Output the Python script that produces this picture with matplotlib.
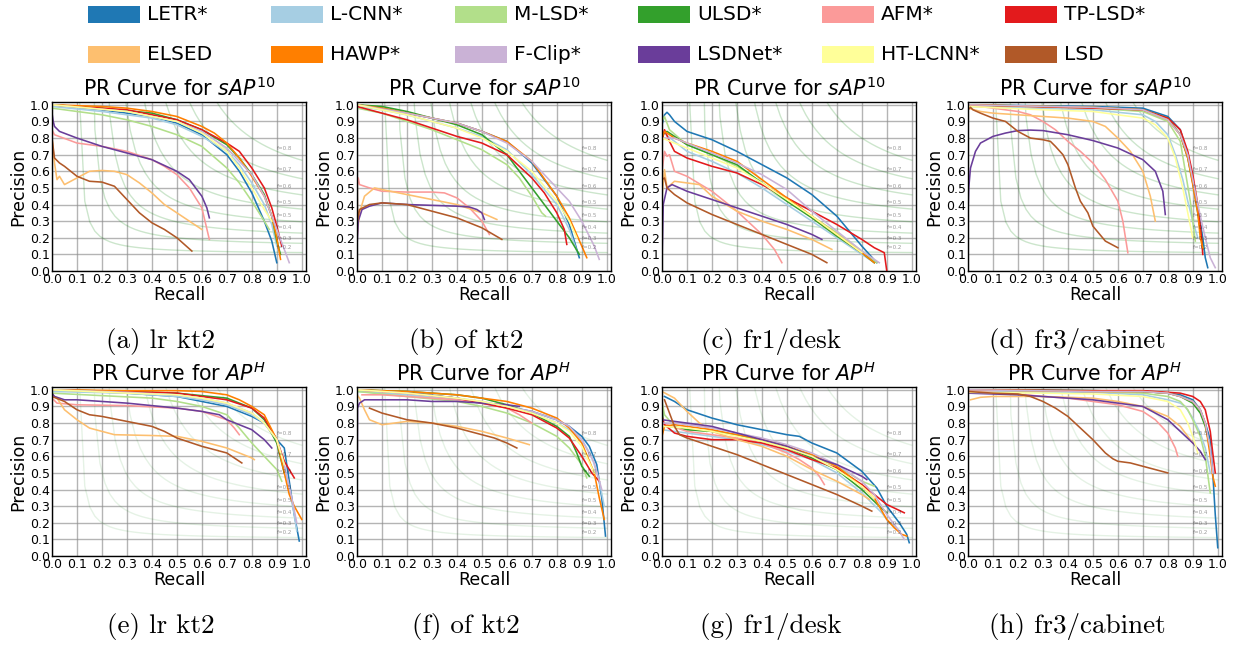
import numpy as np
import matplotlib
matplotlib.use("Agg")
import matplotlib.pyplot as plt
from matplotlib.patches import Rectangle

# ---------------- data ----------------
methods = ["LETR*", "L-CNN*", "M-LSD*", "ULSD*", "AFM*", "TP-LSD*",
           "ELSED", "HAWP*", "F-Clip*", "LSDNet*", "HT-LCNN*", "LSD"]
colors = ["#1f78b4", "#a6cee3", "#b2df8a", "#33a02c", "#fb9a99", "#e31a1c",
          "#fdbf6f", "#ff7f00", "#cab2d6", "#6a3d9a", "#ffff99", "#b15928"]

titles = ["PR Curve for $sAP^{10}$"] * 4 + ["PR Curve for $AP^{H}$"] * 4
captions = ["(a) lr kt2", "(b) of kt2", "(c) fr1/desk", "(d) fr3/cabinet",
            "(e) lr kt2", "(f) of kt2", "(g) fr1/desk", "(h) fr3/cabinet"]
f_scores = np.linspace(0.2, 0.8, num=8)

# (a) lr kt2, sAP10 : method -> (recall, precision)
panel_a = {
    "LETR*": ([0, .2, .4, .5, .6, .7, .75, .8, .85, .88, .9],
              [1.0, .97, .93, .89, .82, .70, .60, .47, .30, .18, .05]),
    "L-CNN*": ([0, .2, .4, .5, .6, .7, .75, .8, .85, .88, .9],
               [.99, .96, .92, .88, .81, .72, .64, .53, .40, .28, .15]),
    "M-LSD*": ([0, .2, .3, .4, .5, .6, .7, .75, .8, .85, .87],
               [.98, .94, .91, .87, .82, .75, .62, .53, .42, .30, .25]),
    "ULSD*": ([0, .2, .4, .5, .6, .7, .75, .8, .85, .88, .9, .915],
              [1.0, .98, .95, .91, .85, .76, .68, .58, .46, .33, .18, .10]),
    "AFM*": ([0, .01, .1, .2, .3, .4, .45, .5, .55, .6, .63],
             [.85, .82, .77, .75, .72, .67, .63, .58, .50, .38, .19]),
    "TP-LSD*": ([0, .3, .5, .6, .7, .75, .8, .85, .88, .9, .92],
                [1.0, .97, .91, .85, .77, .72, .62, .50, .38, .27, .15]),
    "ELSED": ([0, .01, .02, .03, .05, .1, .15, .2, .25, .3, .35, .4, .45, .5, .55, .6],
              [.80, .65, .55, .57, .52, .56, .60, .605, .60, .58, .53, .47, .40, .35, .30, .25]),
    "HAWP*": ([0, .2, .3, .4, .5, .6, .65, .7, .75, .8, .85, .88, .9, .915],
              [1.0, .99, .98, .96, .93, .87, .83, .77, .68, .57, .45, .33, .20, .07]),
    "F-Clip*": ([0, .3, .5, .6, .7, .8, .85, .9, .95],
                [1.0, .96, .90, .84, .74, .58, .45, .25, .05]),
    "LSDNet*": ([0, .005, .01, .03, .1, .2, .3, .4, .5, .55, .6, .62, .63],
                [.95, .90, .87, .84, .80, .75, .71, .67, .60, .55, .45, .38, .32]),
    "HT-LCNN*": ([0, .3, .5, .6, .7, .75, .8, .85, .88],
                 [1.0, .96, .90, .83, .72, .62, .50, .37, .30]),
    "LSD": ([0, .01, .03, .05, .1, .15, .2, .25, .3, .35, .4, .45, .5, .56],
            [.80, .68, .65, .63, .57, .54, .535, .51, .43, .35, .29, .25, .20, .12]),
}

# (b) of kt2, sAP10
panel_b = {
    "LETR*": ([0, .1, .2, .3, .4, .5, .6, .7, .8, .85, .89],
              [1.0, .98, .95, .92, .89, .84, .78, .65, .45, .28, .08]),
    "L-CNN*": ([0, .1, .2, .3, .4, .5, .6, .7, .8, .85, .88],
               [.99, .97, .94, .90, .86, .81, .73, .58, .40, .25, .12]),
    "M-LSD*": ([0, .1, .2, .3, .4, .5, .6, .65, .7, .74, .755],
               [.98, .95, .90, .85, .79, .73, .64, .56, .45, .35, .33]),
    "ULSD*": ([0, .1, .2, .3, .4, .5, .6, .7, .75, .8, .85, .89],
              [1.0, .99, .96, .92, .88, .82, .70, .50, .40, .30, .20, .10]),
    "AFM*": ([0, .005, .01, .05, .1, .2, .3, .35, .4, .45, .5, .53],
             [.50, .56, .52, .50, .48, .475, .475, .47, .44, .38, .30, .22]),
    "TP-LSD*": ([0, .1, .2, .3, .4, .5, .6, .7, .75, .8, .83, .84],
                [.99, .95, .91, .86, .81, .77, .70, .56, .47, .35, .25, .16]),
    "ELSED": ([0, .01, .03, .07, .1, .2, .3, .4, .5, .56],
              [.20, .35, .45, .50, .49, .46, .43, .40, .35, .31]),
    "HAWP*": ([0, .1, .2, .3, .4, .5, .6, .7, .8, .85, .9, .92],
              [1.0, .98, .95, .92, .89, .84, .78, .66, .45, .32, .15, .08]),
    "F-Clip*": ([0, .2, .4, .5, .6, .7, .8, .85, .9, .95, .97],
                [1.0, .95, .89, .84, .77, .66, .50, .42, .30, .15, .07]),
    "LSDNet*": ([0, .005, .02, .05, .1, .15, .2, .3, .4, .45, .48, .5, .51],
                [.15, .30, .37, .39, .41, .405, .40, .395, .39, .385, .37, .35, .31]),
    "HT-LCNN*": ([0, .2, .4, .5, .6, .7, .8, .85, .88],
                 [1.0, .94, .86, .80, .72, .60, .42, .30, .20]),
    "LSD": ([0, 0, .002, .01, .05, .1, .2, .3, .4, .5, .58],
            [0, .75, .30, .37, .40, .41, .40, .36, .32, .26, .19]),
}

# (c) fr1/desk, sAP10
panel_c = {
    "LETR*": ([0, .01, .02, .03, .05, .1, .2, .3, .4, .5, .6, .7, .75, .8, .86],
              [.88, .94, .955, .94, .90, .84, .79, .72, .64, .56, .46, .33, .24, .15, .05]),
    "L-CNN*": ([0, .05, .1, .2, .3, .4, .5, .6, .7, .8, .85],
               [.84, .78, .72, .66, .59, .50, .40, .30, .20, .10, .05]),
    "M-LSD*": ([0, .01, .03, .1, .2, .3, .4, .5, .6, .7, .8, .86],
               [.90, .93, .85, .76, .70, .63, .53, .43, .33, .23, .12, .05]),
    "ULSD*": ([0, .02, .05, .1, .2, .3, .4, .5, .6, .7, .8, .85],
              [.82, .84, .81, .76, .70, .64, .53, .42, .32, .21, .11, .05]),
    "AFM*": ([0, .01, .02, .03, .05, .1, .2, .3, .4, .45, .48],
             [.60, .72, .69, .70, .60, .57, .48, .36, .22, .13, .05]),
    "TP-LSD*": ([0, .01, .03, .05, .1, .2, .3, .4, .5, .6, .7, .8, .85, .89, .9],
                [.78, .85, .78, .72, .68, .63, .59, .52, .44, .36, .28, .19, .14, .11, 0.0]),
    "ELSED": ([0, .01, .02, .05, .1, .15, .2, .3, .4, .5, .6, .68],
              [.45, .61, .50, .54, .53, .52, .45, .36, .30, .25, .19, .13]),
    "HAWP*": ([0, .01, .05, .1, .2, .3, .4, .5, .6, .7, .8, .85],
              [.80, .84, .80, .77, .72, .66, .55, .44, .33, .22, .11, .05]),
    "F-Clip*": ([0, .05, .1, .2, .3, .4, .5, .6, .7, .8, .87],
                [.80, .80, .77, .71, .65, .58, .49, .36, .24, .12, .05]),
    "LSDNet*": ([0, .005, .02, .04, .1, .2, .3, .4, .5, .6, .64],
                [.05, .40, .50, .52, .48, .43, .38, .33, .28, .22, .19]),
    "HT-LCNN*": ([0, .1, .2, .3, .4, .5, .6, .7, .8],
                 [.80, .74, .68, .62, .53, .43, .33, .22, .11]),
    "LSD": ([0, .01, .02, .05, .1, .2, .3, .4, .5, .6, .66],
            [.55, .56, .50, .46, .41, .34, .28, .22, .16, .10, .05]),
}

# (d) fr3/cabinet, sAP10
panel_d = {
    "LETR*": ([0, .5, .7, .8, .85, .88, .9, .92, .94, .95, .96],
              [1.0, .99, .98, .93, .85, .70, .55, .38, .20, .08, .02]),
    "L-CNN*": ([0, .5, .7, .75, .8, .83, .86, .88, .9, .92],
               [.99, .97, .94, .90, .82, .70, .55, .42, .30, .20]),
    "M-LSD*": ([0, .5, .7, .8, .85, .87, .89, .9, .91],
               [1.0, .98, .96, .90, .78, .60, .42, .30, .18]),
    "ULSD*": ([0, .5, .7, .8, .85, .88, .9, .92, .935, .94],
              [1.0, .985, .97, .92, .82, .68, .53, .35, .20, .13]),
    "AFM*": ([0, .1, .2, .25, .3, .35, .4, .45, .5, .55, .6, .62, .64],
             [1.0, .98, .96, .94, .90, .85, .78, .72, .65, .55, .42, .30, .11]),
    "TP-LSD*": ([0, .5, .7, .8, .85, .88, .9, .92, .935, .94],
                [1.0, .98, .97, .92, .85, .72, .58, .40, .20, .10]),
    "ELSED": ([0, .05, .1, .2, .3, .4, .5, .55, .6, .65, .7, .73, .75],
              [.98, .96, .95, .94, .93, .92, .90, .87, .80, .72, .60, .45, .30]),
    "HAWP*": ([0, .5, .7, .8, .85, .88, .9, .92, .93, .94],
              [1.0, .985, .97, .91, .82, .68, .52, .35, .20, .14]),
    "F-Clip*": ([0, .5, .7, .8, .85, .88, .9, .92, .95, .97, .99],
                [1.0, .985, .97, .91, .82, .70, .55, .40, .20, .08, .02]),
    "LSDNet*": ([0, .003, .01, .03, .05, .1, .15, .2, .25, .3, .4, .5, .6, .7, .75, .78, .79],
                [.35, .50, .62, .72, .77, .81, .83, .845, .848, .845, .82, .785, .74, .67, .60, .48, .34]),
    "HT-LCNN*": ([0, .3, .5, .7, .75, .8, .83, .86, .88, .9],
                 [.99, .97, .96, .92, .88, .80, .68, .50, .35, .20]),
    "LSD": ([0, .01, .02, .05, .1, .15, .2, .25, .3, .33, .35, .38, .4, .43, .45, .48, .5, .55, .6],
            [.97, .985, .97, .95, .92, .90, .84, .80, .79, .78, .75, .70, .64, .50, .42, .35, .27, .18, .14]),
}

# (e) lr kt2, AP^H
panel_e = {
    "LETR*": ([0, .3, .5, .6, .7, .8, .85, .9, .93, .95, .97, .99],
              [1.0, .98, .96, .93, .90, .84, .80, .70, .65, .45, .25, .09]),
    "L-CNN*": ([0, .3, .5, .6, .7, .8, .85, .9, .92, .95, .97, .98],
               [.99, .98, .96, .94, .91, .85, .80, .70, .60, .40, .25, .15]),
    "M-LSD*": ([0, .2, .4, .5, .6, .7, .75, .8, .85, .9, .92],
               [.98, .965, .95, .93, .90, .85, .77, .68, .60, .52, .45]),
    "ULSD*": ([0, .3, .5, .6, .7, .8, .85, .9, .93],
              [1.0, .99, .98, .965, .95, .89, .82, .68, .50]),
    "AFM*": ([0, .02, .1, .3, .5, .6, .7, .73, .75],
             [.95, .92, .91, .905, .89, .87, .82, .77, .73]),
    "TP-LSD*": ([0, .3, .5, .6, .7, .8, .85, .9, .93, .97],
                [1.0, .99, .98, .96, .94, .89, .83, .70, .57, .47]),
    "ELSED": ([0, .02, .05, .1, .15, .2, .25, .4, .5, .6, .7, .8, .81],
              [.97, .95, .88, .82, .77, .75, .73, .725, .72, .69, .65, .59, .58]),
    "HAWP*": ([0, .3, .5, .6, .7, .75, .8, .85, .9, .93, .95, .97, 1.0],
              [1.0, .995, .995, .99, .97, .94, .90, .85, .70, .50, .37, .30, .22]),
    "F-Clip*": ([0, .3, .5, .6, .7, .8, .85, .9, .93, .96, .98],
                [1.0, .985, .97, .95, .92, .86, .80, .70, .55, .35, .20]),
    "LSDNet*": ([0, .01, .05, .1, .3, .5, .6, .67, .7, .75, .8, .85, .88],
                [.98, .96, .94, .94, .92, .89, .87, .85, .82, .79, .76, .70, .65]),
    "HT-LCNN*": ([0, .3, .5, .6, .7, .8, .85, .9, .93],
                 [1.0, .98, .97, .95, .92, .86, .80, .70, .55]),
    "LSD": ([0, .05, .1, .15, .2, .3, .4, .45, .5, .6, .7, .76],
            [.96, .93, .88, .85, .84, .81, .78, .75, .71, .66, .62, .56]),
}

# (f) of kt2, AP^H
panel_f = {
    "LETR*": ([0, .2, .4, .5, .6, .7, .8, .85, .9, .93, .96, .98, .995],
              [1.0, .985, .95, .92, .90, .87, .82, .78, .72, .66, .55, .35, .12]),
    "L-CNN*": ([0, .2, .4, .5, .6, .7, .8, .85, .9, .94, .97, .99],
               [.99, .97, .94, .92, .90, .86, .80, .76, .70, .60, .45, .30]),
    "M-LSD*": ([0, .2, .4, .5, .6, .7, .8, .85, .9, .92],
               [.99, .96, .93, .90, .86, .80, .72, .65, .55, .47]),
    "ULSD*": ([0, .2, .4, .5, .6, .7, .8, .85, .88, .9, .93],
              [1.0, .99, .97, .95, .91, .86, .78, .72, .62, .54, .48]),
    "AFM*": ([.02, .1, .2, .3, .4, .5, .6, .65, .7],
             [.97, .97, .96, .95, .94, .92, .89, .85, .80]),
    "TP-LSD*": ([0, .2, .4, .5, .6, .7, .8, .85, .9, .94, .97],
                [1.0, .98, .95, .92, .89, .85, .77, .71, .60, .50, .45]),
    "ELSED": ([0, .01, .03, .05, .1, .15, .2, .3, .4, .5, .6, .69],
              [.97, .95, .88, .82, .79, .80, .81, .80, .78, .75, .71, .67]),
    "HAWP*": ([0, .2, .4, .5, .6, .7, .8, .85, .9, .95, .97, .99],
              [1.0, .99, .97, .95, .93, .89, .83, .77, .68, .50, .35, .22]),
    "F-Clip*": ([0, .2, .4, .5, .6, .7, .8, .85, .9, .95, .98],
                [1.0, .98, .95, .93, .90, .87, .82, .78, .70, .56, .40]),
    "LSDNet*": ([0, .002, .01, .03, .2, .3, .4, .5, .6, .65],
                [.20, .89, .92, .94, .94, .93, .93, .92, .91, .90]),
    "HT-LCNN*": ([0, .2, .4, .5, .6, .7, .8, .85, .9, .95],
                 [1.0, .98, .95, .93, .90, .86, .80, .75, .66, .50]),
    "LSD": ([.05, .1, .2, .3, .4, .5, .55, .6, .64],
            [.89, .86, .82, .80, .77, .73, .71, .68, .65]),
}

# (g) fr1/desk, AP^H
panel_g = {
    "LETR*": ([.01, .05, .1, .2, .3, .4, .5, .55, .6, .7, .8, .86, .9, .95, .98, .99],
              [.96, .93, .88, .83, .79, .76, .73, .72, .68, .62, .51, .41, .30, .20, .13, .08]),
    "L-CNN*": ([0, .1, .2, .3, .4, .5, .6, .7, .8, .88, .9, .95],
               [.76, .74, .72, .70, .67, .63, .58, .50, .38, .26, .22, .15]),
    "M-LSD*": ([0, .01, .05, .1, .2, .3, .4, .5, .6, .7, .8, .85],
               [.93, .85, .78, .76, .75, .73, .70, .66, .60, .54, .45, .42]),
    "ULSD*": ([0, .005, .03, .1, .2, .3, .4, .5, .6, .7, .8, .87, .9],
              [.90, .80, .78, .76, .75, .73, .69, .65, .59, .52, .40, .30, .26]),
    "AFM*": ([0, .1, .2, .3, .4, .5, .55, .6, .63, .65],
             [.80, .75, .73, .71, .68, .62, .58, .53, .48, .43]),
    "TP-LSD*": ([0, .01, .05, .1, .2, .3, .4, .5, .6, .7, .8, .85, .9, .97],
                [.84, .79, .74, .72, .70, .70, .68, .64, .58, .53, .43, .37, .31, .26]),
    "ELSED": ([0, .05, .1, .15, .2, .3, .4, .5, .6, .7, .8, .83],
              [.99, .95, .87, .80, .75, .70, .66, .60, .52, .45, .37, .34]),
    "HAWP*": ([0, .01, .05, .1, .2, .3, .4, .5, .6, .7, .8, .85, .9, .93, .96, .98],
              [.72, .78, .79, .78, .76, .73, .70, .66, .61, .54, .42, .35, .22, .17, .13, .12]),
    "F-Clip*": ([0, .05, .1, .2, .3, .4, .5, .6, .7, .8, .85, .9, .95, .97],
                [.80, .80, .79, .77, .74, .71, .67, .62, .55, .45, .37, .25, .15, .10]),
    "LSDNet*": ([0, .05, .1, .2, .3, .4, .5, .6, .7, .8, .82],
                [.82, .81, .80, .78, .74, .70, .66, .60, .55, .48, .46]),
    "HT-LCNN*": ([0, .1, .2, .3, .4, .5, .6, .7, .8, .85],
                 [.78, .77, .75, .72, .69, .65, .60, .52, .42, .35]),
    "LSD": ([.01, .03, .05, .07, .1, .2, .3, .4, .5, .6, .7, .8, .84],
            [.94, .86, .78, .73, .71, .66, .61, .55, .49, .43, .37, .30, .27]),
}

# (h) fr3/cabinet, AP^H
panel_h = {
    "LETR*": ([0, .5, .7, .8, .85, .9, .93, .95, .97, .98, .99, 1.0],
              [1.0, .995, .99, .98, .97, .94, .88, .80, .70, .50, .25, .05]),
    "L-CNN*": ([0, .5, .7, .8, .85, .87, .9, .93, .95, .97],
               [.99, .985, .97, .94, .92, .90, .83, .74, .65, .50]),
    "M-LSD*": ([0, .5, .7, .8, .85, .88, .9, .93, .95, .97],
               [1.0, .99, .98, .96, .93, .88, .82, .72, .60, .38]),
    "ULSD*": ([0, .5, .7, .8, .85, .9, .93, .95, .97],
              [1.0, .995, .99, .98, .96, .92, .86, .78, .65]),
    "AFM*": ([0, .1, .2, .3, .4, .5, .6, .7, .75, .8, .83, .84],
             [.99, .985, .975, .96, .95, .93, .91, .87, .82, .74, .65, .60]),
    "TP-LSD*": ([0, .5, .7, .8, .85, .9, .93, .95, .97, .98, .99],
                [1.0, .995, .995, .985, .98, .96, .93, .88, .75, .62, .50]),
    "ELSED": ([.01, .05, .1, .2, .3, .4, .5, .6, .7, .75, .8, .85, .88, .9],
              [.94, .955, .96, .96, .96, .955, .95, .93, .90, .87, .84, .78, .72, .68]),
    "HAWP*": ([0, .5, .7, .8, .85, .9, .93, .95, .97, .98, .99],
              [1.0, .99, .99, .98, .96, .93, .88, .80, .60, .48, .42]),
    "F-Clip*": ([0, .5, .7, .8, .85, .9, .93, .95, .97, .98],
                [1.0, .99, .99, .98, .96, .93, .88, .80, .65, .50]),
    "LSDNet*": ([0, .1, .2, .3, .4, .5, .6, .7, .75, .8, .85, .9, .93, .95],
                [.98, .975, .97, .96, .95, .94, .92, .90, .86, .82, .75, .68, .63, .58]),
    "HT-LCNN*": ([0, .3, .5, .7, .8, .85, .88, .9, .92],
                 [.985, .98, .975, .96, .93, .88, .80, .72, .62]),
    "LSD": ([0, .1, .2, .25, .3, .35, .4, .45, .5, .55, .58, .6, .65, .7, .75, .8],
            [.99, .98, .975, .96, .93, .89, .84, .77, .70, .62, .585, .57, .56, .54, .52, .50]),
}

panels = [panel_a, panel_b, panel_c, panel_d, panel_e, panel_f, panel_g, panel_h]

# ---------------- figure ----------------
W, H = 1248, 648
fig = plt.figure(figsize=(W / 100, H / 100), dpi=100)

ax_left_px = [52, 357, 662, 968]
ax_top_px = [102, 387]
ax_w_px, ax_h_px = 254, 169

for i, (panel, title, cap) in enumerate(zip(panels, titles, captions)):
    row, col = divmod(i, 4)
    l = ax_left_px[col]
    t = ax_top_px[row]
    ax = fig.add_axes([l / W, (H - t - ax_h_px) / H, ax_w_px / W, ax_h_px / H])

    # iso-F curves
    iso_alpha = 0.2 if row == 0 else 0.1
    for f in f_scores:
        x = np.linspace(0.01, 1)
        y = f * x / (2 * x - f)
        ax.plot(x[y >= 0], y[y >= 0], color="green", alpha=iso_alpha, lw=1.0)
        ax.annotate("f={0:0.1}".format(f), xy=(0.9, y[45] + 0.02),
                    alpha=0.4, fontsize=4)

    for name, c in zip(methods, colors):
        r, p = panel[name]
        ax.plot(r, p, color=c, lw=1.15)

    ax.set_xlim(0, 1.017)
    ax.set_ylim(0, 1.017)
    ticks = np.round(np.arange(0, 1.01, 0.1), 1)
    ax.set_xticks(ticks)
    ax.set_yticks(ticks)
    ax.set_xticklabels([f"{v:.1f}" for v in ticks])
    ax.set_yticklabels([f"{v:.1f}" for v in ticks])
    ax.tick_params(length=0, pad=1.5, labelsize=9)
    ax.grid(True, color="0.55", lw=1.0, alpha=0.65)
    ax.set_axisbelow(True)
    ax.set_xlabel("Recall", fontsize=12.5, labelpad=0)
    ax.set_ylabel("Precision", fontsize=12.5, labelpad=2)
    ax.set_title(title, fontsize=14.8, pad=4)
    for s in ax.spines.values():
        s.set_linewidth(1.0)

    cx = l + ax_w_px / 2 - 18
    cy = 348 if row == 0 else 633
    fig.text(cx / W, 1 - cy / H, cap, family="cmr10", fontsize=19.5,
             ha="center", va="baseline")

# legend (2 rows x 6 columns)
for k, (name, c) in enumerate(zip(methods, colors)):
    r, cidx = divmod(k, 6)
    px = 88 + 183.4 * cidx
    py = 6 + 40 * r
    fig.patches.append(Rectangle((px / W, 1 - (py + 17) / H), 52 / W, 17 / H,
                                 transform=fig.transFigure, facecolor=c,
                                 edgecolor="none"))
    fig.text((px + 59) / W, 1 - (py + 8.5) / H, name, fontsize=14.5,
             ha="left", va="center")

fig.savefig("out.png", dpi=100)
